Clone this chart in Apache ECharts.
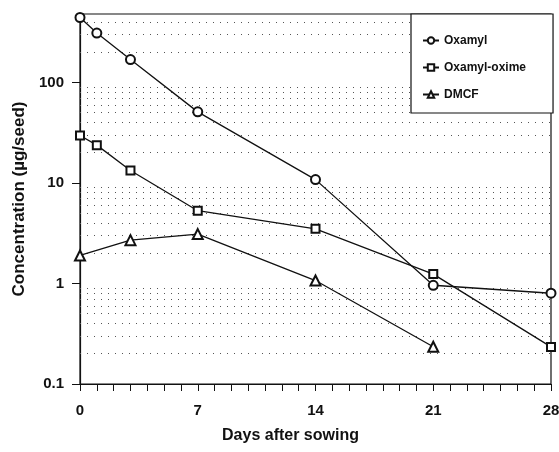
<!DOCTYPE html>
<html>
<head>
<meta charset="utf-8">
<script src="https://cdn.jsdelivr.net/npm/echarts@6/dist/echarts.min.js"></script>
<style>
  html, body { margin: 0; padding: 0; background: #fff; }
  #chart { width: 559px; height: 452px; }
</style>
</head>
<body>
<div id="chart"></div>
<script>
// values
var seriesNames = ['Oxamyl', 'Oxamyl-oxime', 'DMCF'];
var oxamylDays = [0, 1, 3, 7, 14, 21, 28];
var oxamylConc = [443, 310, 169, 51, 10.8, 0.96, 0.8];
var oximeDays = [0, 1, 3, 7, 14, 21, 28];
var oximeConc = [29.7, 23.8, 13.3, 5.3, 3.5, 1.24, 0.234];
var dmcfDays = [0, 3, 7, 14, 21];
var dmcfConc = [1.9, 2.7, 3.1, 1.07, 0.235];

// minor (dotted) gridline levels on the log axis
var minorLevels = [0.2, 0.3, 0.4, 0.5, 0.6, 0.7, 0.8, 0.9,
  2, 3, 4, 5, 6, 7, 8, 9, 20, 30, 40, 50, 60, 70, 80, 90, 200, 300, 400];
var xLabels = [0, 7, 14, 21, 28];
var yLabels = [0.1, 1, 10, 100];

function pairs(xs, ys) {
  return xs.map(function (x, i) { return [x, ys[i]]; });
}

var font = 'Liberation Sans';
var chart = echarts.init(document.getElementById('chart'));

chart.setOption({
  animation: false,
  textStyle: {fontFamily: font},
  grid: {
    left: 80, right: 8, top: 14, bottom: 68,
    outerBoundsMode: 'none',
    containLabel: false,
    show: true, borderColor: '#111', borderWidth: 1.2
  },
  legend: {
    orient: 'vertical',
    left: 411, top: 14,
    padding: [19, 27, 11, 11],
    itemGap: 12,
    itemWidth: 16,
    itemHeight: 8,
    borderColor: '#111',
    borderWidth: 1.2,
    borderRadius: 0,
    backgroundColor: '#fff',
    textStyle: {fontFamily: font, fontWeight: 'bold', fontSize: 12, lineHeight: 15, color: '#111'},
    data: seriesNames
  },
  xAxis: {
    type: 'value',
    min: 0, max: 28, interval: 1,
    name: 'Days after sowing',
    nameLocation: 'middle',
    nameGap: 44,
    nameTextStyle: {fontWeight: 'bold', fontSize: 16, color: '#111', padding: [0, 50, 0, 0]},
    axisLine: {lineStyle: {color: '#111', width: 1.2}},
    axisTick: {length: 7, lineStyle: {color: '#111'}},
    axisLabel: {
      margin: 19, fontWeight: 'bold', fontSize: 15, color: '#111',
      formatter: function (v) { return xLabels.indexOf(v) >= 0 ? String(v) : ''; }
    },
    splitLine: {show: false}
  },
  yAxis: {
    type: 'log',
    logBase: 10,
    min: 0.1, max: 480,
    name: 'Concentration (µg/seed)',
    nameLocation: 'middle',
    nameRotate: 90,
    nameGap: 50,
    nameTextStyle: {fontWeight: 'bold', fontSize: 17, color: '#111'},
    axisLine: {show: true, lineStyle: {color: '#111', width: 1.2}},
    axisTick: {length: 8, lineStyle: {color: '#111'}},
    axisLabel: {
      margin: 16, fontWeight: 'bold', fontSize: 15, color: '#111',
      showMaxLabel: false,
      formatter: function (v) {
        var r = +(+v).toPrecision(3);
        return yLabels.indexOf(r) >= 0 ? String(r) : '';
      }
    },
    splitLine: {show: false}
  },
  series: [
    {
      name: seriesNames[0],
      type: 'line',
      data: pairs(oxamylDays, oxamylConc),
      symbol: 'emptyCircle',
      symbolSize: 9,
      z: 3,
      lineStyle: {color: '#111', width: 1.3},
      itemStyle: {color: '#111', borderWidth: 1.2},
      markLine: {
        silent: true,
        symbol: 'none',
        label: {show: false},
        z: 1,
        lineStyle: {color: '#555', width: 1, type: [1, 6]},
        data: minorLevels.map(function (v) { return {yAxis: v}; })
      }
    },
    {
      name: seriesNames[1],
      type: 'line',
      data: pairs(oximeDays, oximeConc),
      symbol: 'emptyRect',
      symbolSize: 8,
      z: 3,
      lineStyle: {color: '#111', width: 1.3},
      itemStyle: {color: '#111', borderWidth: 1.2}
    },
    {
      name: seriesNames[2],
      type: 'line',
      data: pairs(dmcfDays, dmcfConc),
      symbol: 'emptyTriangle',
      symbolSize: 10,
      z: 3,
      lineStyle: {color: '#111', width: 1.3},
      itemStyle: {color: '#111', borderWidth: 1.2}
    }
  ]
});
</script>
</body>
</html>
